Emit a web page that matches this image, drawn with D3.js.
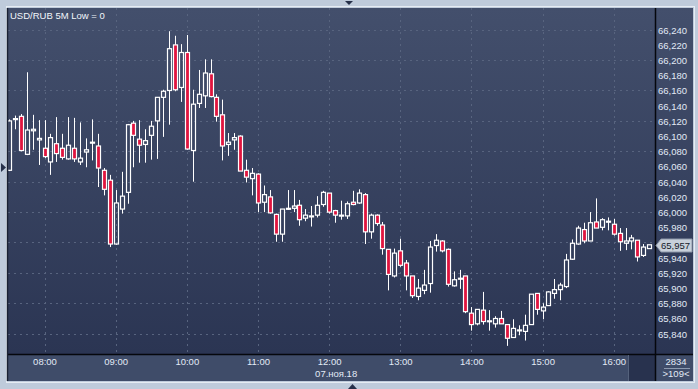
<!DOCTYPE html>
<html>
<head>
<meta charset="utf-8">
<script src="https://cdn.jsdelivr.net/npm/d3@7/dist/d3.min.js"></script>
<style>
  html, body { margin: 0; padding: 0; background: #bfcbdb; }
  svg { display: block; }
  text { font-family: "Liberation Sans", Arial, sans-serif; font-size: 9.5px; fill: #e2eaf6; }
</style>
</head>
<body>
<svg id="chart" width="698" height="389"></svg>
<script>
// 5-minute USD/RUB candles, 07.11.18, first bar at 07:30
var firstBar = new Date(2018, 10, 7, 7, 30);
var barMinutes = 5;

var opens = [66055, 66122, 66126, 66076, 66107, 66095, 66084, 66066, 66090, 66084,
  66070, 66084, 66066, 66079, 66091, 66087, 66055, 66042, 65958, 66004,
  66026, 66117, 66096, 66089, 66101, 66120, 66151, 66160, 66220, 66164,
  66210, 66081, 66143, 66153, 66182, 66151, 66128, 66089, 66095, 66100,
  66055, 66044, 66050, 66013, 66020, 65997, 65971, 66004, 66005, 66009,
  65992, 65994, 65996, 66010, 66025, 66002, 65995, 65995, 66013, 66012,
  66023, 65974, 65996, 65983, 65951, 65916, 65949, 65933, 65916, 65889,
  65897, 65906, 65956, 65962, 65951, 65903, 65912, 65916, 65867, 65853,
  65871, 65856, 65853, 65860, 65852, 65835, 65844, 65843, 65852, 65893,
  65870, 65877, 65893, 65898, 65902, 65938, 65958, 65977, 65962, 65987,
  65980, 65987, 65984, 65972, 65959, 65962, 65963, 65943, 65952];
var highs = [66122, 66127, 66129, 66184, 66128, 66121, 66121, 66103, 66125, 66103,
  66125, 66124, 66118, 66097, 66122, 66103, 66058, 66049, 66029, 66053,
  66116, 66120, 66121, 66109, 66120, 66151, 66161, 66238, 66232, 66221,
  66233, 66161, 66187, 66201, 66201, 66155, 66148, 66104, 66104, 66101,
  66069, 66058, 66051, 66035, 66029, 65998, 66004, 66029, 66029, 66016,
  66004, 66008, 66021, 66028, 66025, 66003, 66015, 66014, 66028, 66030,
  66025, 65998, 65997, 65987, 65951, 65952, 65965, 65937, 65916, 65912,
  65924, 65962, 65971, 65963, 65952, 65922, 65924, 65916, 65875, 65872,
  65895, 65871, 65863, 65870, 65852, 65859, 65851, 65865, 65892, 65893,
  65880, 65896, 65912, 65907, 65945, 65964, 65982, 65986, 66000, 66018,
  65992, 65993, 65991, 65979, 65979, 65970, 65963, 65958, 65957];
var lows = [66054, 66109, 66080, 66075, 66082, 66062, 66071, 66049, 66066, 66069,
  66069, 66066, 66062, 66059, 66068, 66033, 66022, 65954, 65957, 65998,
  66011, 66059, 66065, 66065, 66069, 66070, 66099, 66115, 66159, 66145,
  66082, 66040, 66137, 66137, 66151, 66119, 66068, 66074, 66082, 66054,
  66039, 66022, 66000, 66000, 65998, 65961, 65961, 66003, 66000, 65982,
  65988, 65981, 65993, 66007, 65998, 65986, 65990, 65991, 66009, 66011,
  65958, 65965, 65982, 65944, 65897, 65914, 65928, 65897, 65887, 65884,
  65892, 65894, 65948, 65947, 65902, 65902, 65899, 65867, 65844, 65851,
  65852, 65844, 65848, 65853, 65824, 65835, 65838, 65831, 65852, 65865,
  65859, 65877, 65886, 65884, 65900, 65937, 65957, 65959, 65962, 65979,
  65976, 65976, 65969, 65949, 65950, 65951, 65935, 65941, 65952];
var closes = [66120, 66123, 66081, 66108, 66109, 66097, 66073, 66098, 66077, 66072,
  66088, 66070, 66071, 66082, 66092, 66058, 66030, 65958, 66012, 66021,
  66115, 66101, 66088, 66094, 66113, 66151, 66159, 66215, 66161, 66210,
  66083, 66142, 66155, 66183, 66152, 66126, 66087, 66092, 66098, 66054,
  66046, 66051, 66012, 66023, 65999, 65971, 66004, 66005, 66008, 65990,
  65996, 65995, 66009, 66026, 66000, 65996, 65996, 66011, 66010, 66025,
  65974, 65996, 65985, 65952, 65918, 65946, 65930, 65916, 65890, 65900,
  65904, 65954, 65963, 65949, 65905, 65911, 65913, 65869, 65852, 65872,
  65856, 65857, 65860, 65853, 65834, 65847, 65845, 65851, 65892, 65872,
  65875, 65895, 65898, 65904, 65937, 65959, 65979, 65962, 65986, 65979,
  65990, 65988, 65971, 65961, 65962, 65966, 65941, 65954, 65957];

var priceTicks = d3.range(65840, 66241, 20);
var gridPrices = d3.range(65840, 66241, 40);
var hourTicks = [8, 9, 10, 11, 12, 13, 14, 15, 16];
var titleText = 'USD/RUB 5M Low = 0';
var dateText = '07.ноя.18';
var lastPrice = 65957;
var barCountText = '2834';
var visibleText = '>109<';

var bars = opens.map(function (o, i) {
  return {
    time: d3.timeMinute.offset(firstBar, i * barMinutes),
    open: o, high: highs[i], low: lows[i], close: closes[i]
  };
});

var plotLeft = 8, plotTop = 8, plotRight = 655, plotBottom = 354;
var panelRight = 693, panelBottom = 381;

var svg = d3.select('#chart');

var x = d3.scaleTime()
  .domain([new Date(2018, 10, 7, 8, 0), new Date(2018, 10, 7, 16, 0)])
  .range([44.5, 613.7]);
var y = d3.scaleLinear()
  .domain([65840, 66240])
  .range([333.7, 29.7]);

function px(v) { return Math.round(v) + 0.5; }

// background gradient
var defs = svg.append('defs');
var grad = defs.append('linearGradient').attr('id', 'bg')
  .attr('x1', 0).attr('y1', 0).attr('x2', 0).attr('y2', 1);
grad.append('stop').attr('offset', '0%').attr('stop-color', '#434f6c');
grad.append('stop').attr('offset', '100%').attr('stop-color', '#293351');
defs.append('clipPath').attr('id', 'plotClip')
  .append('rect')
  .attr('x', plotLeft).attr('y', plotTop)
  .attr('width', plotRight - plotLeft).attr('height', plotBottom - plotTop);

svg.append('rect').attr('x', 0).attr('y', 0).attr('width', 698).attr('height', 389)
  .attr('fill', '#bfcbdb');
svg.append('rect')
  .attr('x', plotLeft - 1.5).attr('y', plotTop - 1.5)
  .attr('width', panelRight - plotLeft + 3).attr('height', panelBottom - plotTop + 3)
  .attr('fill', 'none').attr('stroke', '#e6ecf3');
svg.append('rect')
  .attr('x', plotLeft).attr('y', plotTop)
  .attr('width', panelRight - plotLeft).attr('height', panelBottom - plotTop)
  .attr('fill', 'url(#bg)');

// bottom axis band
svg.append('rect')
  .attr('x', plotLeft).attr('y', plotBottom)
  .attr('width', panelRight - plotLeft).attr('height', panelBottom - plotBottom)
  .attr('fill', '#3f4c69');
svg.append('rect')
  .attr('x', 628).attr('y', plotBottom + 1)
  .attr('width', plotRight - 628).attr('height', panelBottom - plotBottom - 1)
  .attr('fill', '#28324e');

// grid
var grid = svg.append('g').attr('clip-path', 'url(#plotClip)')
  .attr('stroke', '#58647f').attr('stroke-dasharray', '2,4').attr('stroke-width', 1);
grid.selectAll('.hgrid').data(gridPrices).enter().append('line')
  .attr('class', 'hgrid')
  .attr('x1', plotLeft).attr('x2', plotRight)
  .attr('y1', function (d) { return px(y(d)); })
  .attr('y2', function (d) { return px(y(d)); });
grid.selectAll('.vgrid').data(hourTicks).enter().append('line')
  .attr('class', 'vgrid')
  .attr('y1', plotTop).attr('y2', plotBottom)
  .attr('x1', function (h) { return px(x(new Date(2018, 10, 7, h, 0))); })
  .attr('x2', function (h) { return px(x(new Date(2018, 10, 7, h, 0))); });

// candles
var candles = svg.append('g').attr('clip-path', 'url(#plotClip)')
  .selectAll('.candle').data(bars).enter().append('g')
  .attr('class', 'candle')
  .attr('transform', function (d) { return 'translate(' + px(x(d.time)) + ',0)'; });

candles.append('line')
  .attr('stroke', '#ffffff')
  .attr('y1', function (d) { return y(d.high); })
  .attr('y2', function (d) { return y(Math.max(d.open, d.close)); });
candles.append('line')
  .attr('stroke', '#ffffff')
  .attr('y1', function (d) { return y(Math.min(d.open, d.close)); })
  .attr('y2', function (d) { return y(d.low); });
candles.append('rect')
  .attr('x', -2).attr('width', 4)
  .attr('y', function (d) { return y(Math.max(d.open, d.close)); })
  .attr('height', function (d) { return Math.max(1, Math.abs(y(d.open) - y(d.close))); })
  .attr('fill', function (d) { return d.close < d.open ? '#e0153f' : 'none'; })
  .attr('stroke', '#ffffff').attr('stroke-width', 1.2);

// frame lines
svg.append('line').attr('x1', plotLeft).attr('x2', panelRight)
  .attr('y1', plotBottom + 0.5).attr('y2', plotBottom + 0.5)
  .attr('stroke', '#05070c').attr('stroke-width', 1.5);
svg.append('line').attr('x1', plotRight + 0.5).attr('x2', plotRight + 0.5)
  .attr('y1', plotTop).attr('y2', panelBottom)
  .attr('stroke', '#05070c').attr('stroke-width', 1.5);
svg.append('line').attr('x1', plotLeft - 0.5).attr('x2', plotLeft - 0.5)
  .attr('y1', plotTop).attr('y2', panelBottom)
  .attr('stroke', '#1a2133').attr('stroke-width', 1.5);
svg.append('line').attr('x1', 628.5).attr('x2', 628.5)
  .attr('y1', plotBottom + 1).attr('y2', panelBottom)
  .attr('stroke', '#55627c');

// right price axis (the label under the last-price tag is hidden)
var lastY = Math.round(y(lastPrice));
var shownTicks = priceTicks.filter(function (p) { return Math.abs(y(p) - lastY) > 8; });
var yAxis = d3.axisRight(y).tickValues(shownTicks).tickSize(0).tickPadding(0)
  .tickFormat(d3.format(','));
var yAxisG = svg.append('g').attr('transform', 'translate(658,0)').call(yAxis);
yAxisG.select('.domain').remove();
yAxisG.selectAll('text').attr('fill', null).attr('dy', '0.35em')
  .attr('font-size', null).attr('font-family', null);

// bottom time axis
var xAxis = d3.axisBottom(x)
  .tickValues(hourTicks.map(function (h) { return new Date(2018, 10, 7, h, 0); }))
  .tickSize(0).tickPadding(0)
  .tickFormat(d3.timeFormat('%H:%M'));
var xAxisG = svg.append('g').attr('transform', 'translate(0,358)').call(xAxis);
xAxisG.select('.domain').remove();
xAxisG.selectAll('text').attr('fill', null).attr('dy', '0.71em')
  .attr('font-size', null).attr('font-family', null);

svg.append('text')
  .attr('x', x(new Date(2018, 10, 7, 12, 0)) - 14).attr('y', 377)
  .text(dateText);

// title
svg.append('text').attr('x', 10).attr('y', 18.5).style('fill', '#f2f6fb').text(titleText);

// last price marker
svg.append('path')
  .attr('d', 'M' + (plotRight + 1) + ',' + (lastY + 0.5) +
    'L' + (plotRight + 6) + ',' + (lastY - 6) +
    'L' + (panelRight - 1) + ',' + (lastY - 6) +
    'L' + (panelRight - 1) + ',' + (lastY + 7) +
    'L' + (plotRight + 6) + ',' + (lastY + 7) + 'Z')
  .attr('fill', '#c8d0da').attr('stroke', '#8c97a8');
svg.append('text').attr('x', 661).attr('y', lastY + 4)
  .style('fill', '#141a28').text(d3.format(',')(lastPrice));

// bar counters
svg.append('text').attr('x', 676).attr('y', 365).attr('text-anchor', 'middle')
  .text(barCountText);
svg.append('line').attr('x1', 664).attr('x2', 690).attr('y1', 368.5).attr('y2', 368.5)
  .attr('stroke', '#8d9ab0');
svg.append('text').attr('x', 676).attr('y', 377).attr('text-anchor', 'middle')
  .text(visibleText);

// scroll arrows in the frame
svg.append('path').attr('d', 'M345,1L353,1L349,5Z').attr('fill', '#26304a');
svg.append('path').attr('d', 'M1,163L6,167.5L1,172Z').attr('fill', '#26304a');
svg.append('path').attr('d', 'M348,389L357,389L352.5,384Z').attr('fill', '#26304a');
</script>
</body>
</html>
